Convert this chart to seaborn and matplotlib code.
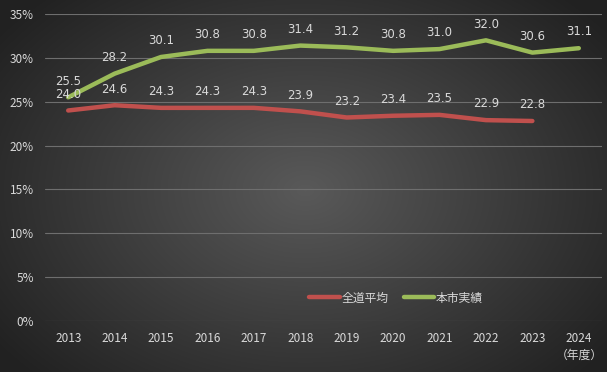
import numpy as np
import pandas as pd
import matplotlib.pyplot as plt
import seaborn as sns

years = ["2013", "2014", "2015", "2016", "2017", "2018",
         "2019", "2020", "2021", "2022", "2023", "2024"]
dou_avg = [24.0, 24.6, 24.3, 24.3, 24.3, 23.9, 23.2, 23.4, 23.5, 22.9, 22.8, np.nan]
city = [25.5, 28.2, 30.1, 30.8, 30.8, 31.4, 31.2, 30.8, 31.0, 32.0, 30.6, 31.1]
series_names = ["全道平均", "本市実績"]
colors = ["#c0504d", "#9bbb59"]

df = pd.DataFrame({"year": years * 2,
                   "value": dou_avg + city,
                   "series": [series_names[0]] * 12 + [series_names[1]] * 12})
df["x"] = list(range(12)) * 2

sns.set_style("dark")
plt.rcParams['font.family'] = ['Noto Sans CJK JP', 'DejaVu Sans']

fig = plt.figure(figsize=(6.1, 3.75), dpi=100)

# radial gradient background (chart area leaves a thin white margin right/bottom)
bg = fig.add_axes([0, 3 / 375, 607 / 610, 372 / 375])
yy, xx = np.mgrid[0:372, 0:607]
r = np.sqrt(((xx - 305) / 330.0) ** 2 + ((yy - 190) / 230.0) ** 2)
shade = np.clip(0.35 - 0.19 * r, 0.13, 0.35)
img = np.dstack([shade, shade, shade])
bg.imshow(img, aspect="auto", extent=[0, 1, 0, 1])
bg.set_axis_off()

ax = fig.add_axes([45 / 610, (375 - 321) / 375, (602 - 45) / 610, (321 - 14) / 375])
ax.patch.set_alpha(0)

sns.lineplot(data=df, x="x", y="value", hue="series", palette=colors,
             linewidth=3.2, ax=ax, legend=True)

for vals in (dou_avg, city):
    for i, v in enumerate(vals):
        if not np.isnan(v):
            ax.annotate(f"{v:.1f}", (i, v), xytext=(0, 7), textcoords="offset points",
                        ha="center", va="bottom", color="#d9d9d9", fontsize=8.5,
                        family=["DejaVu Sans"])

ax.set_xlim(-0.5, 11.5)
ax.set_ylim(0, 35)
ax.set_yticks(range(0, 36, 5))
ax.set_yticklabels([f"{t}%" for t in range(0, 36, 5)])
ax.set_xticks(range(12))
ax.set_xticklabels(years)
ax.tick_params(colors="#d9d9d9", labelsize=8.5, length=0, pad=8)
ax.grid(axis="y", color="#6e6e6e", linewidth=0.8)
ax.grid(axis="x", visible=False)
for s in ax.spines.values():
    s.set_visible(False)
ax.set_xlabel("")
ax.set_ylabel("")
ax.annotate("（年度）", (11, 0), xytext=(0, -25), textcoords="offset points",
            ha="center", va="center", color="#d9d9d9", fontsize=8.5)

leg = ax.legend(loc="center", bbox_to_anchor=(0.63, 0.075), ncol=2, frameon=False,
                fontsize=8.5, handlelength=2.6, columnspacing=1.3, handletextpad=0.1)
for t in leg.get_texts():
    t.set_color("#d9d9d9")

fig.savefig("out.png", dpi=100, facecolor="white")
